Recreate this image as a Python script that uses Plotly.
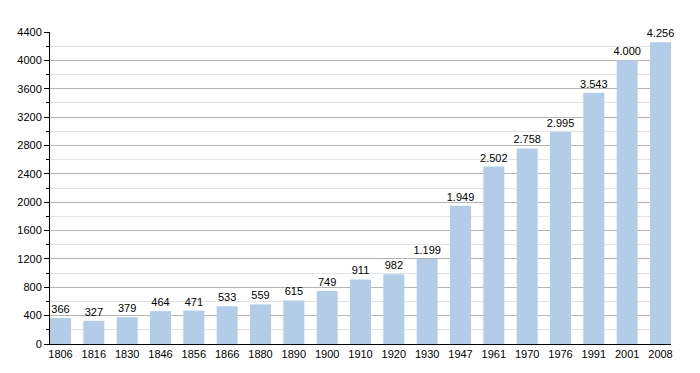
import plotly.graph_objects as go

years = ["1806", "1816", "1830", "1846", "1856", "1866", "1880", "1890", "1900", "1910",
         "1920", "1930", "1947", "1961", "1970", "1976", "1991", "2001", "2008"]
population = [366, 327, 379, 464, 471, 533, 559, 615, 749, 911,
              982, 1199, 1949, 2502, 2758, 2995, 3543, 4000, 4256]
y_ticks = list(range(0, 4401, 400))


def fmt(v):
    return f"{v:,}".replace(",", ".")


labels = [fmt(v) for v in population]

fig = go.Figure(go.Bar(
    x=list(range(len(years))),
    y=population,
    text=labels,
    textposition="outside",
    constraintext="none",
    textfont=dict(size=11, color="black", family="Liberation Sans, Arial, sans-serif"),
    marker=dict(color="#b3cde8", line=dict(width=0)),
    width=0.63,
    cliponaxis=False,
))

fig.update_layout(
    width=700, height=373,
    margin=dict(l=50, r=29, t=32, b=29, autoexpand=False),
    plot_bgcolor="white", paper_bgcolor="white",
    showlegend=False,
    font=dict(family="Liberation Sans, Arial, sans-serif", size=11, color="black"),
)
fig.update_xaxes(
    tickmode="array", tickvals=list(range(len(years))), ticktext=years,
    range=[-0.315, len(years) - 1 + 0.315],
    showline=True, linecolor="black", linewidth=1,
    ticks="", showgrid=False, zeroline=False, automargin=False,
    tickfont=dict(size=11, color="black"),
)
fig.update_yaxes(
    range=[0, 4400], tickmode="array", tickvals=y_ticks,
    showline=True, linecolor="black", linewidth=1,
    ticks="outside", ticklen=5, tickcolor="black",
    showgrid=True, gridcolor="#b4b4b4", gridwidth=1,
    zeroline=False, automargin=False,
    minor=dict(dtick=200, showgrid=True, gridcolor="#e3e3e3", ticks="outside",
               ticklen=3, tickcolor="black"),
    tickfont=dict(size=11, color="black"),
)

fig.write_html("out.html", config={"displayModeBar": False},
               post_script="document.body.style.margin='0';")
